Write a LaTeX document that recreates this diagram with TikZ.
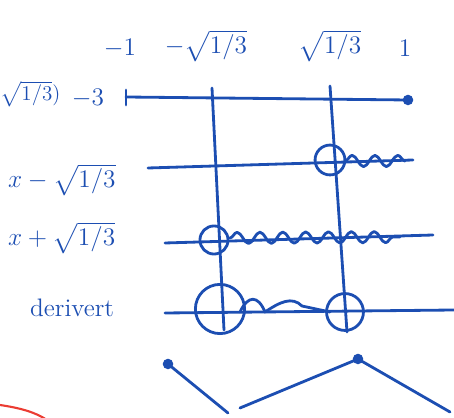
\documentclass[tikz,border=0pt]{standalone}
\usepackage{amsmath}
\usetikzlibrary{calc,decorations.pathmorphing}
\definecolor{penblue}{RGB}{28,78,178}
\definecolor{penred}{RGB}{235,60,50}
\tikzset{
  pen/.style={draw=penblue,line width=1.6pt,line cap=round,line join=round},
  lbl/.style={text=penblue,font=\large,inner sep=1pt},
  rowlbl/.style={lbl,font=\Large,anchor=west},
  wiggle/.style={pen,decorate,decoration={snake,amplitude=3.2pt,segment length=13pt}},
  hole/.style={circle,draw=penblue,line width=1.6pt,inner sep=0pt},
  dot/.style={circle,fill=penblue,inner sep=0pt,minimum size=6pt}
}

\begin{document}
\begin{tikzpicture}[x=0.02cm,y=-0.02cm]
  \useasboundingbox (0,0) rectangle (454,418);
  \clip (0,0) rectangle (454,418);

  %% Labels over the chart
  \node[lbl,font=\Large] (lm1) at (120,48) {$-1$};
  \node[lbl,font=\Large] (lmr) at (206,46) {$-\sqrt{1/3}$};
  \node[lbl,font=\Large] (lpr) at (330,46) {$\sqrt{1/3}$};
  \node[lbl,font=\Large] (lp1) at (405,48) {$1$};

  %% Row labels
  \node[lbl,anchor=west,inner sep=0pt] (fx) at (0,94) {$\sqrt{1/3})$};
  \node[lbl,font=\Large] (m3) at (88,98) {$-3$};
  \node[rowlbl] (r1) at (6,180) {$x-\sqrt{1/3}$};
  \node[rowlbl] (r2) at (6,238) {$x+\sqrt{1/3}$};
  \node[rowlbl] (r3) at (28,308) {derivert};

  %% Interval line
  \coordinate (a0) at (126,97); \coordinate (b0) at (408,100);
  \draw[pen] (a0) -- (b0);
  \draw[pen] ($(a0)+(0,-7)$) -- ($(a0)+(0,8)$);
  \node[dot] (e0) at (b0) {};

  %% Verticals at the zeros
  \coordinate (va) at (212,88); \coordinate (vb) at (224,330);
  \coordinate (wa) at (330,86); \coordinate (wb) at (347,332);
  \draw[pen] (va) -- (vb);
  \draw[pen] (wa) -- (wb);

  %% x - sqrt(1/3)
  \coordinate (a1) at (148,168); \coordinate (b1) at (413,160);
  \draw[pen] (a1) -- (b1);
  \node[hole,minimum size=17pt] (h1) at (330,160) {};
  \draw[wiggle] (345,161) -- (405,161);

  %% x + sqrt(1/3)
  \coordinate (a2) at (165,243); \coordinate (b2) at (433,235);
  \draw[pen] (a2) -- (b2);
  \node[hole,minimum size=16pt] (h2) at (214,240) {};
  \draw[wiggle] (230,238) -- (400,237);

  %% derivert
  \coordinate (a3) at (165,313); \coordinate (b3) at (454,310);
  \draw[pen] (a3) -- (b3);
  \node[hole,minimum size=28pt] (h3) at (220,309) {};
  \node[hole,minimum size=21pt] (h4) at (345,312) {};
  \draw[pen] (240,312) .. controls (248,295) and (258,295) .. (265,312)
             .. controls (280,302) and (292,296) .. (302,306) -- (330,312);

  %% Sketch of the graph
  \node[dot] (p1) at (168,364) {};
  \coordinate (q1) at (228,413);
  \coordinate (q2) at (240,408);
  \node[dot] (p2) at (358,359) {};
  \coordinate (q3) at (450,412);
  \draw[pen] (p1.center) -- (q1);
  \draw[pen] (q2) -- (p2.center) -- (q3);

  %% Red stroke in the corner
  \draw[draw=penred,line width=1.2pt] (0,405) .. controls (20,408) and (35,412) .. (47,420);
\end{tikzpicture}
\end{document}
